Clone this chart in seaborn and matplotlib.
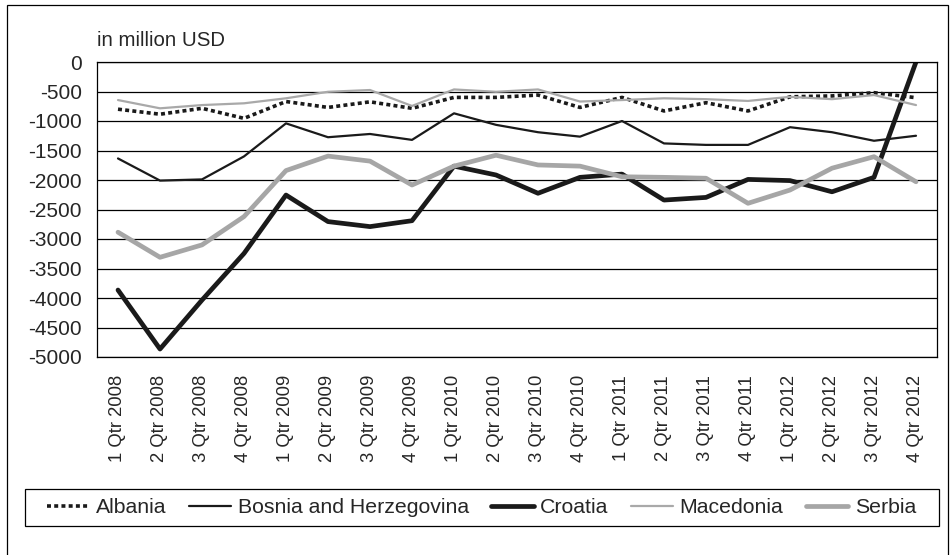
import pandas as pd
import numpy as np
import seaborn as sns
import matplotlib.pyplot as plt
from matplotlib.patches import Rectangle
from matplotlib.lines import Line2D

# quarters on the x axis
quarters = [f"{q} Qtr {y}" for y in range(2008, 2013) for q in range(1, 5)]

# trade balance, in million USD
albania = [-800, -885, -785, -955, -670, -770, -675, -785, -600, -600,
           -560, -770, -600, -830, -690, -830, -590, -575, -520, -605]
bosnia = [-1635, -2010, -1990, -1600, -1040, -1275, -1220, -1320, -870, -1065,
          -1190, -1265, -1000, -1380, -1405, -1405, -1105, -1190, -1335, -1250]
croatia = [-3865, -4865, -4035, -3245, -2255, -2705, -2790, -2690, -1765, -1915,
           -2225, -1955, -1900, -2340, -2295, -1990, -2010, -2200, -1955, 0]
macedonia = [-645, -785, -730, -700, -615, -505, -475, -745, -465, -505,
             -465, -670, -645, -615, -630, -660, -590, -630, -560, -730]
serbia = [-2885, -3310, -3100, -2620, -1840, -1595, -1680, -2085, -1765, -1580,
          -1745, -1765, -1945, -1955, -1970, -2395, -2170, -1800, -1605, -2030]

countries = ["Albania", "Bosnia and Herzegovina", "Croatia", "Macedonia", "Serbia"]
series = [albania, bosnia, croatia, macedonia, serbia]

# line look per country
colors = ["#1a1a1a", "#1a1a1a", "#1a1a1a", "#a9a9a9", "#a6a6a6"]
widths = [2.6, 1.6, 3.4, 1.6, 3.4]
dashes = [(1.1, 0.9), None, None, None, None]

df = pd.DataFrame({
    "quarter": quarters * len(countries),
    "value": sum(series, []),
    "country": np.repeat(countries, len(quarters)),
})

sns.set_style("white")
plt.rcParams["font.family"] = ["Liberation Sans", "DejaVu Sans"]
plt.rcParams["axes.unicode_minus"] = False

fig = plt.figure(figsize=(9.5, 5.55), dpi=100)
ax = fig.add_axes([97 / 950, 1 - 357 / 555, 840 / 950, 295 / 555])

for name, c, lw, d in zip(countries, colors, widths, dashes):
    sub = df[df["country"] == name]
    sns.lineplot(data=sub, x="quarter", y="value", ax=ax, color=c,
                 linewidth=lw, sort=False, legend=False)
    if d:
        ax.get_lines()[-1].set_dashes(d)

ax.set_xlim(-0.5, len(quarters) - 0.5)
ax.set_ylim(-5000, 0)
ax.set_yticks(np.arange(-5000, 1, 500))
ax.yaxis.grid(True, color="black", linewidth=0.9)
ax.set_axisbelow(True)
ax.set_xlabel("")
ax.set_ylabel("")
ax.tick_params(axis="y", labelsize=15, length=0, pad=11)
ax.tick_params(axis="x", labelsize=13.3, length=0, pad=13, rotation=90)
for s in ax.spines.values():
    s.set_color("black")
    s.set_linewidth(0.9)

fig.text(97 / 950, 1 - 40 / 555, "in million USD", fontsize=14.7, va="center")

# legend below the axis, frame drawn separately
handles = []
for c, lw, d in zip(colors, widths, dashes):
    h = Line2D([0], [0], color=c, linewidth=lw)
    if d:
        h.set_dashes(d)
    handles.append(h)
fig.legend(handles, countries, loc="center", ncol=5, fontsize=15.3,
           bbox_to_anchor=(481.5 / 950, 1 - 507.5 / 555), frameon=False,
           handlelength=2.0, handletextpad=0.3, columnspacing=1.05)
fig.patches.append(Rectangle((25 / 950, 1 - 526 / 555), 914 / 950, 37 / 555,
                             transform=fig.transFigure, fill=False,
                             edgecolor="black", linewidth=0.9))

# outer border of the figure
fig.patches.append(Rectangle((7 / 950, -0.01), 941 / 950, 1 - 5 / 555 + 0.01,
                             transform=fig.transFigure, fill=False,
                             edgecolor="black", linewidth=0.9))

plt.savefig("out.png", dpi=100)
